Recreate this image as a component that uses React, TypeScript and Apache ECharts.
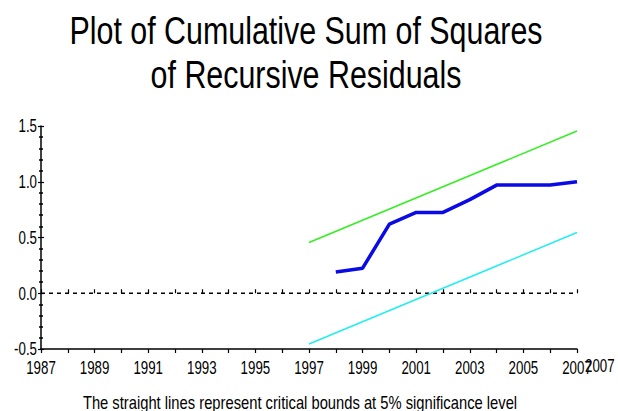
import React, { useEffect, useRef } from "react";
import * as echarts from "echarts";

const years = [1998, 1999, 2000, 2001, 2002, 2003, 2004, 2005, 2006, 2007];
const cusumsq = [0.19, 0.225, 0.62, 0.725, 0.725, 0.84, 0.97, 0.97, 0.97, 1.0];
const boundYears = [1997, 2007];
const upperBound = [0.455, 1.455];
const lowerBound = [-0.455, 0.545];
const zeroLine = [
  [1987, 0],
  [2006.85, 0],
];
const yTicks = [-0.5, 0.0, 0.5, 1.0, 1.5];
const xTickLabels = [1987, 1989, 1991, 1993, 1995, 1997, 1999, 2001, 2003, 2005, 2007];
const extraXLabel = "2007";
const titleLines = ["Plot of Cumulative Sum of Squares", "of Recursive Residuals"];
const caption = "The straight lines represent critical bounds at 5% significance level";

const FONT = "'Liberation Sans', Arial, sans-serif";
const LABEL_SIZE = 18;
const LABEL_SCALE = 0.74;

export default function App() {
  const ref = useRef<HTMLDivElement>(null);
  useEffect(() => {
    if (!ref.current) return;
    const chart = echarts.init(ref.current, null, { renderer: "svg" });
    const xBase = {
      type: "value",
      min: 1987,
      max: 2007,
      interval: 1,
      splitLine: { show: false },
      axisLabel: { show: false },
      axisLine: { show: true, onZero: false, lineStyle: { color: "#000", width: 1.5 } },
    };
    const yBase = {
      type: "value",
      min: -0.5,
      max: 1.5,
      interval: 0.5,
      splitLine: { show: false },
      axisLabel: { show: false },
      axisLine: { show: true, onZero: false, lineStyle: { color: "#000", width: 1.5 } },
    };
    const textEl = (text: string, x: number, y: number, size: number, scale: number, align: string) => ({
      type: "text",
      x,
      y,
      scaleX: scale,
      style: {
        text,
        fontFamily: FONT,
        fontSize: size,
        fill: "#000",
        textAlign: align,
        textVerticalAlign: "middle",
      },
    });
    chart.setOption({
      animation: false,
      backgroundColor: "#fff",
      grid: { left: 41, right: 41, top: 126, bottom: 62 },
      xAxis: [
        {
          ...xBase,
          position: "bottom",
          axisTick: { show: true, inside: false, length: 4, lineStyle: { color: "#000", width: 1.2 } },
        },
        {
          ...xBase,
          position: "bottom",
          axisLine: { show: false },
          axisTick: { show: true, inside: true, length: 4, lineStyle: { color: "#000", width: 1.2 } },
        },
      ],
      yAxis: [
        {
          ...yBase,
          position: "left",
          axisTick: { show: true, inside: false, length: 3, lineStyle: { color: "#000", width: 1.2 } },
          minorTick: { show: true, splitNumber: 5, length: 2, lineStyle: { color: "#000", width: 1.5 } },
        },
        {
          ...yBase,
          position: "left",
          axisLine: { show: false },
          axisTick: { show: true, inside: true, length: 3, lineStyle: { color: "#000", width: 1.2 } },
          minorTick: { show: true, splitNumber: 5, length: 2, lineStyle: { color: "#000", width: 1.5 } },
        },
      ],
      series: [
        {
          type: "line",
          data: zeroLine,
          symbol: "none",
          lineStyle: { color: "#000", width: 1.3, type: [4, 4] },
          silent: true,
        },
        {
          type: "line",
          data: boundYears.map((y, i) => [y, upperBound[i]]),
          symbol: "none",
          lineStyle: { color: "#33ee22", width: 1.5 },
        },
        {
          type: "line",
          data: boundYears.map((y, i) => [y, lowerBound[i]]),
          symbol: "none",
          lineStyle: { color: "#22eeee", width: 1.5 },
        },
        {
          type: "line",
          data: years.map((y, i) => [y, cusumsq[i]]),
          symbol: "none",
          lineStyle: { color: "#0a0ae6", width: 3.5 },
        },
      ],
    });

    const graphics: any[] = [
      textEl(titleLines[0], 306, 31, 38, 0.8, "center"),
      textEl(titleLines[1], 306, 75, 38, 0.8, "center"),
      textEl(caption, 300, 402, 18, 0.82, "center"),
    ];
    xTickLabels.forEach((yr) => {
      const p = chart.convertToPixel({ gridIndex: 0 }, [yr, -0.5]) as number[];
      graphics.push(textEl(String(yr), p[0], p[1] + 19, LABEL_SIZE, LABEL_SCALE, "center"));
    });
    const pEnd = chart.convertToPixel({ gridIndex: 0 }, [2007, -0.5]) as number[];
    graphics.push(textEl(extraXLabel, pEnd[0] + 8, pEnd[1] + 17, LABEL_SIZE, LABEL_SCALE, "left"));
    yTicks.forEach((v) => {
      const p = chart.convertToPixel({ gridIndex: 0 }, [1987, v]) as number[];
      graphics.push(textEl(v.toFixed(1), p[0] - 4, p[1], LABEL_SIZE, LABEL_SCALE, "right"));
    });
    chart.setOption({ graphic: graphics });

    return () => chart.dispose();
  }, []);
  return <div ref={ref} style={{ width: 618, height: 411, position: "absolute", left: 0, top: 0 }} />;
}
